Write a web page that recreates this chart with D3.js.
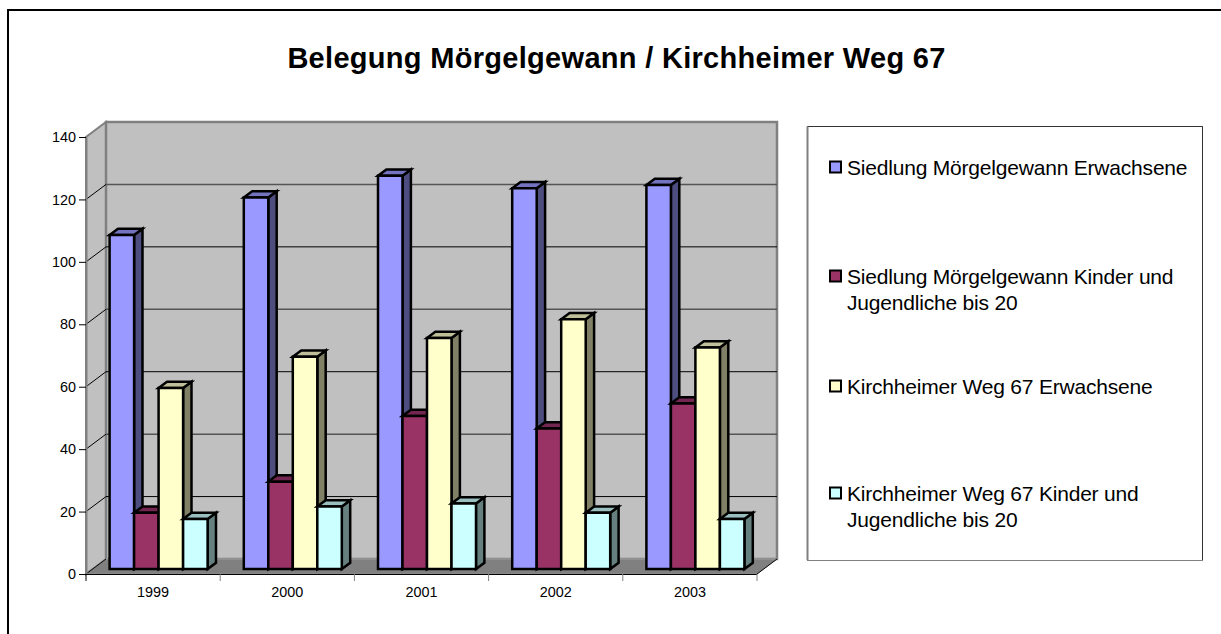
<html>
    <head>
        <script src="https://d3js.org/d3.v7.min.js"></script>
        <style>
            html,body{margin:0;padding:0;background:#fff;overflow:hidden;}
            text{font-family:"Liberation Sans",Arial,sans-serif;fill:#000;}
        </style>
    </head>
    <body>
        <svg id="svg" width="1221" height="634"></svg>
        <script>
            var title = "Belegung Mörgelgewann / Kirchheimer Weg 67";
            var years = ["1999","2000","2001","2002","2003"];
            var y_ticks = [0,20,40,60,80,100,120,140];
            var series_names = [
                ["Siedlung Mörgelgewann Erwachsene"],
                ["Siedlung Mörgelgewann Kinder und","Jugendliche bis 20"],
                ["Kirchheimer Weg 67 Erwachsene"],
                ["Kirchheimer Weg 67 Kinder und","Jugendliche bis 20"]
            ];
            var siedlung_erw = [107,119,126,122,123];
            var siedlung_kind = [18,28,49,45,53];
            var kirch_erw = [58,68,74,80,71];
            var kirch_kind = [16,20,21,18,16];
            var all_series = [siedlung_erw,siedlung_kind,kirch_erw,kirch_kind];
            var front_colors = ["#9999ff","#993366","#ffffcc","#ccffff"];
            var top_colors = ["#7373bf","#732650","#bfbf99","#99bfbf"];
            var side_colors = ["#4d4d80","#4d1a33","#808066","#668080"];

            var svg = d3.select("svg");

            // frame, only left and top are visible in the picture
            svg.append("path").attr("d","M8,634V10H1221").attr("fill","none").attr("stroke","#000").attr("stroke-width",2);

            svg.append("text").attr("x",616.5).attr("y",68).attr("text-anchor","middle")
                .attr("font-size",29).attr("font-weight","bold").attr("letter-spacing",0.3).text(title);

            var x = d3.scaleBand().domain(years).range([86,757]);
            var y = d3.scaleLinear().domain([0,140]).range([574,137]);
            // depth: 0 front edge of the floor, 1 back wall
            var depth_x = d3.scaleLinear().domain([0,1]).range([0,20]);
            var depth_y = d3.scaleLinear().domain([0,1]).range([0,-15]);
            var pt = function(px,v,z){
                return [px+depth_x(z), y(v)+depth_y(z)];
            };
            var line = d3.line();
            var poly = function(points,fill,stroke,sw){
                svg.append("path").attr("d",line(points)+"Z").attr("fill",fill)
                    .attr("stroke",stroke).attr("stroke-width",sw).attr("stroke-linejoin","miter");
            };

            // side wall, back wall, floor
            poly([pt(86,0,0),pt(86,140,0),pt(86,140,1),pt(86,0,1)],"#c0c0c0","#808080",2);
            poly([pt(86,0,1),pt(86,140,1),pt(757,140,1),pt(757,0,1)],"#c0c0c0","#808080",2.5);
            poly([pt(86,0,0),pt(86,0,1),pt(757,0,1),pt(757,0,0)],"#808080","#a0a0a0",1);

            // gridlines on both walls
            y_ticks.slice(1,-1).forEach(function(t,i){
                svg.append("line").attr("x1",pt(86,t,1)[0]).attr("y1",pt(86,t,1)[1])
                    .attr("x2",pt(757,t,1)[0]).attr("y2",pt(757,t,1)[1])
                    .attr("stroke",i%2==0?"#000":"#555").attr("stroke-width",i%2==0?1:1.5);
                svg.append("line").attr("x1",pt(86,t,0)[0]).attr("y1",pt(86,t,0)[1])
                    .attr("x2",pt(86,t,1)[0]).attr("y2",pt(86,t,1)[1])
                    .attr("stroke","#000").attr("stroke-width",1);
            });
            svg.append("line").attr("x1",pt(86,0,0)[0]).attr("y1",pt(86,0,0)[1])
                .attr("x2",pt(86,0,1)[0]).attr("y2",pt(86,0,1)[1]).attr("stroke","#000");
            svg.append("line").attr("x1",pt(757,0,0)[0]).attr("y1",pt(757,0,0)[1])
                .attr("x2",pt(757,0,1)[0]).attr("y2",pt(757,0,1)[1]).attr("stroke","#000");

            // axes
            var y_axis = d3.axisLeft(y).tickValues(y_ticks).tickSize(7).tickPadding(3).tickSizeOuter(0);
            var y_g = svg.append("g").attr("transform","translate(86,0)").call(y_axis);
            y_g.select(".domain").attr("stroke","#808080").attr("stroke-width",2);
            y_g.selectAll("line").attr("stroke","#000");
            y_g.selectAll("text").attr("font-size",14.4).style("font-family","Liberation Sans");

            svg.append("line").attr("x1",86).attr("x2",757).attr("y1",y(0)).attr("y2",y(0)).attr("stroke","#808080").attr("stroke-width",1);
            svg.append("line").attr("x1",86).attr("x2",757).attr("y1",y(0)+0.5).attr("y2",y(0)+0.5).attr("stroke","#000").attr("stroke-width",1);
            var x_edges = years.map(function(d){return x(d);}).concat([x.range()[1]]);
            x_edges.forEach(function(e,i){
                svg.append("line").attr("x1",e).attr("x2",e).attr("y1",y(0)).attr("y2",y(0)+7)
                    .attr("stroke",i==0?"#000":"#808080").attr("stroke-width",1);
            });
            years.forEach(function(d){
                svg.append("text").attr("x",x(d)+x.bandwidth()/2).attr("y",597).attr("text-anchor","middle")
                    .attr("font-size",14.4).text(d);
            });

            // bars
            var bar_x = d3.scaleBand().domain(d3.range(4)).range([17,115]);
            var z0 = 0.33, z1 = 0.75;
            years.forEach(function(d,i){
                all_series.forEach(function(s,k){
                    var x0 = x(d)+bar_x(k), x1 = x0+bar_x.bandwidth(), v = s[i];
                    poly([pt(x1,0,z0),pt(x1,v,z0),pt(x1,v,z1),pt(x1,0,z1)],side_colors[k],"#000",2.5);
                    poly([pt(x0,v,z0),pt(x0,v,z1),pt(x1,v,z1),pt(x1,v,z0)],top_colors[k],"#000",2.5);
                    poly([pt(x0,0,z0),pt(x0,v,z0),pt(x1,v,z0),pt(x1,0,z0)],front_colors[k],"#000",2.5);
                });
            });

            // legend
            svg.append("rect").attr("x",807.5).attr("y",126.5).attr("width",395).attr("height",434)
                .attr("fill","#fff").attr("stroke","#808080").attr("stroke-width",1);
            svg.append("path").attr("d","M807.5,126.5H1202.5V560").attr("fill","none").attr("stroke","#333");
            svg.append("path").attr("d","M807.5,126.5V560").attr("fill","none").attr("stroke","#808080").attr("stroke-width",2);
            var legend_y = [167,276,386,493];
            series_names.forEach(function(lines,k){
                var ly = legend_y[k];
                svg.append("rect").attr("x",830).attr("y",ly-5.5).attr("width",11).attr("height",11)
                    .attr("fill",front_colors[k]).attr("stroke","#000").attr("stroke-width",2);
                lines.forEach(function(l,j){
                    svg.append("text").attr("x",847).attr("y",ly+8+j*25.7).attr("font-size",21)
                        .attr("letter-spacing",-0.2).text(l);
                });
            });
        </script>
    </body>
</html>
